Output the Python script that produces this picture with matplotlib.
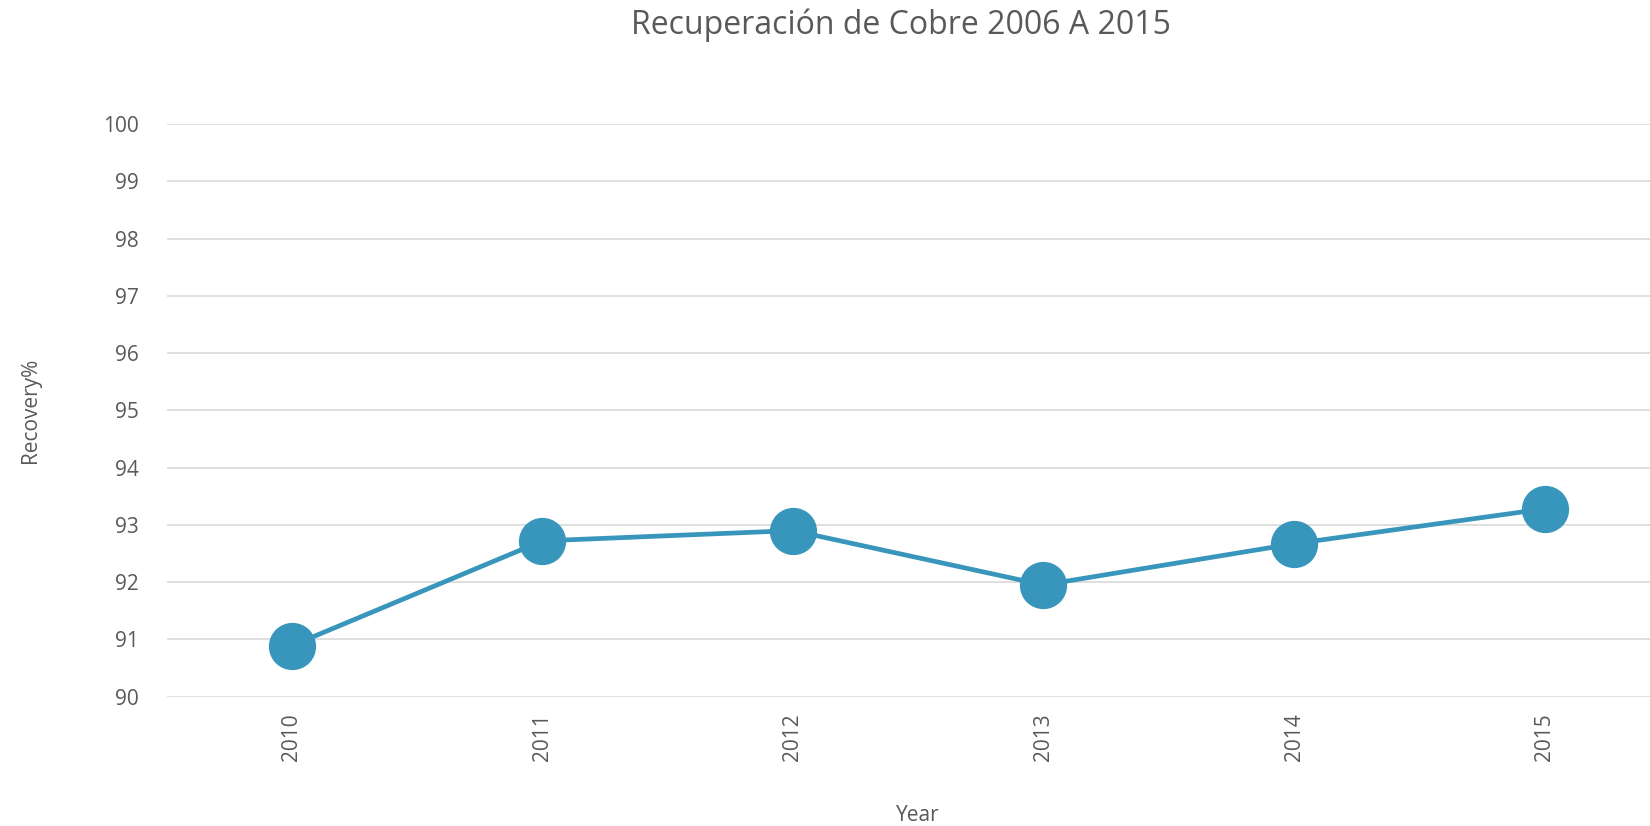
import matplotlib.pyplot as plt

# data
years = ["2010", "2011", "2012", "2013", "2014", "2015"]
recovery = [90.89, 92.72, 92.90, 91.95, 92.67, 93.28]
yticks = [90, 91, 92, 93, 94, 95, 96, 97, 98, 99, 100]

grey = "#595959"
blue = "#3895bb"

plt.rcParams["font.family"] = ["Open Sans", "DejaVu Sans"]

fig = plt.figure(figsize=(16.5, 8.26), dpi=100)
ax = fig.add_axes([0.101, 0.1567, 0.911, 0.6929])

x = range(len(years))
ax.plot(x, recovery, color=blue, linewidth=3.4, marker="o", markersize=33,
        markerfacecolor=blue, markeredgecolor=blue, zorder=3)

ax.set_xlim(-0.5, len(years) - 0.5)
ax.set_ylim(90, 100)
ax.set_yticks(yticks)
ax.set_xticks(list(x))
ax.set_xticklabels(years, rotation=90)
ax.grid(axis="y", color="#d9d9d9", linewidth=1.2)
ax.set_axisbelow(True)
for s in ax.spines.values():
    s.set_visible(False)
ax.tick_params(axis="both", length=0, labelsize=15, labelcolor=grey)
ax.tick_params(axis="y", pad=20)
ax.tick_params(axis="x", pad=12)

ax.set_ylabel("Recovery%", fontsize=15, color=grey, labelpad=45)
ax.set_xlabel("Year", fontsize=15, color=grey, labelpad=32)
fig.text(0.546, 0.97, "Recuperación de Cobre 2006 A 2015", ha="center", va="center",
         fontsize=23, color=grey)

fig.savefig("out.png", dpi=100)
